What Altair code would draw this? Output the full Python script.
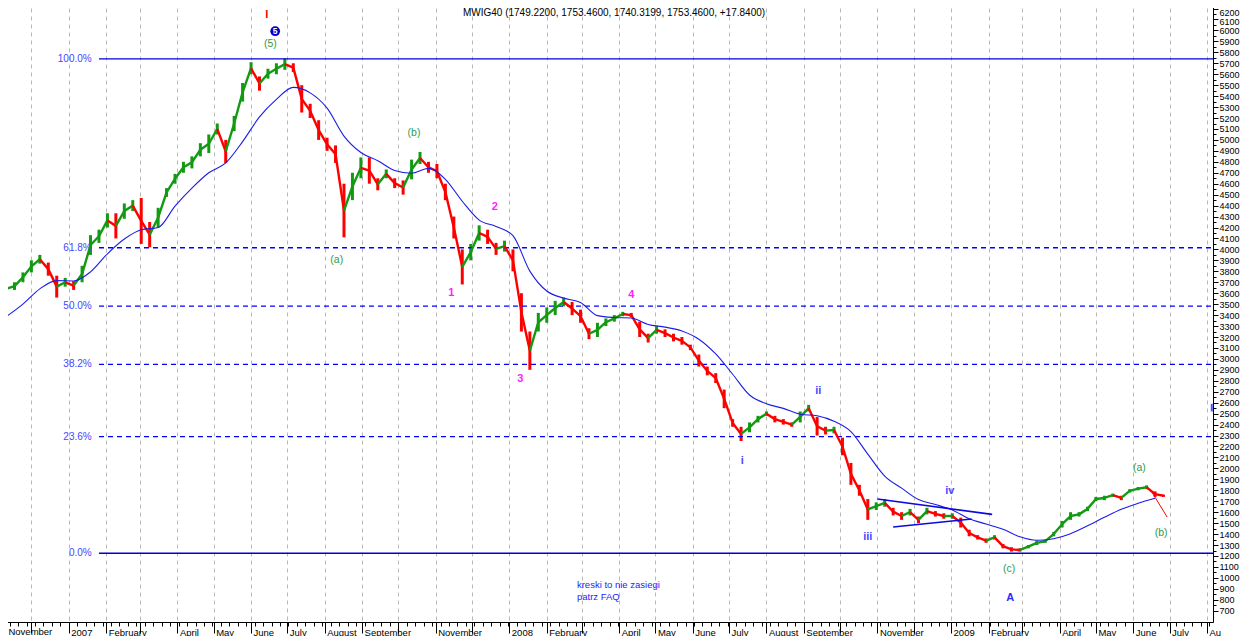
import altair as alt
import pandas as pd

# ---------------- data ----------------
title_text = "MWIG40 (1749.2200, 1753.4600, 1740.3199, 1753.4600, +17.8400)"
first_month_label = "November"
first_month_date = "2006-11-12"

week_start = "2006-11-10"
week_lows = [3600, 3630, 3700, 3790, 3870, 3760, 3560, 3660, 3630, 3700,
             3950, 4060, 4200, 4100, 4280, 4350, 4050, 4020, 4200, 4480,
             4600, 4700, 4740, 4850, 4880, 5050, 4790, 5080, 5350, 5600,
             5450, 5560, 5600, 5640, 5620, 5250, 5200, 5000, 4900, 4790,
             4110, 4450, 4650, 4600, 4540, 4650, 4560, 4500, 4640, 4780,
             4700, 4650, 4450, 4100, 3680, 3900, 4080, 4050, 3950, 3980,
             3800, 3250, 2900, 3250, 3330, 3400, 3480, 3400, 3330, 3180,
             3200, 3300, 3340, 3390, 3380, 3200, 3150, 3230, 3200, 3160,
             3130, 3080, 2930, 2850, 2780, 2550, 2380, 2250, 2330, 2420,
             2480, 2420, 2400, 2380, 2420, 2520, 2300, 2310, 2320, 2120,
             1850, 1750, 1530, 1620, 1650, 1570, 1530, 1570, 1500, 1580,
             1560, 1540, 1540, 1460, 1380, 1350, 1320, 1350, 1270, 1240,
             1240, 1270, 1300, 1320, 1380, 1460, 1530, 1560, 1610, 1700,
             1710, 1740, 1710, 1780, 1800, 1810, 1740, 1740]
week_highs = [3680, 3700, 3790, 3900, 3950, 3880, 3760, 3740, 3710, 3850,
              4130, 4180, 4330, 4330, 4420, 4450, 4470, 4250, 4380, 4560,
              4690, 4800, 4850, 4970, 5050, 5150, 5000, 5220, 5520, 5710,
              5580, 5650, 5700, 5745, 5700, 5500, 5330, 5180, 5020, 4950,
              4600, 4700, 4840, 4840, 4650, 4730, 4650, 4630, 4820, 4890,
              4800, 4780, 4600, 4300, 4000, 4050, 4220, 4180, 4060, 4080,
              4000, 3600, 3250, 3420, 3470, 3530, 3560, 3520, 3450, 3280,
              3330, 3370, 3400, 3430, 3420, 3340, 3230, 3300, 3270, 3230,
              3200, 3130, 3040, 2930, 2870, 2720, 2450, 2380, 2420, 2480,
              2520, 2480, 2450, 2420, 2520, 2580, 2470, 2380, 2380, 2280,
              2050, 1850, 1720, 1690, 1720, 1640, 1600, 1630, 1560, 1640,
              1610, 1590, 1590, 1550, 1440, 1390, 1360, 1390, 1310, 1280,
              1270, 1300, 1340, 1350, 1420, 1520, 1600, 1600, 1650, 1740,
              1750, 1770, 1750, 1810, 1830, 1845, 1790, 1760]

ma_start = "2006-11-10"
ma_values = [3385, 3500, 3640, 3715, 3712, 3795, 3960, 4095, 4180, 4200,
             4395, 4560, 4700, 4790, 4985, 5210, 5370, 5480, 5430, 5290,
             5035, 4885, 4810, 4720, 4695, 4740, 4640, 4440, 4268, 4210,
             4125, 3802, 3620, 3555, 3515, 3395, 3378, 3373, 3315, 3290,
             3255, 3180, 3045, 2860, 2670, 2590, 2548, 2495, 2480, 2430,
             2335, 2130, 1930, 1820, 1715, 1670, 1620, 1540, 1492, 1444,
             1375, 1343, 1358, 1404, 1475, 1553, 1627, 1681, 1727]

fib_high = 5740
fib_low = 1225
fib_ratios = [1.0, 0.618, 0.5, 0.382, 0.236, 0.0]
fib_labels = ["100.0%", "61.8%", "50.0%", "38.2%", "23.6%", "0.0%"]
fib_kind = ["solid", "dashed", "dashed", "dashed", "dashed", "solid"]
fib_line_start = "2007-01-26"
fib_label_date = "2007-01-20"

wave_texts = ["I", "(5)", "(a)", "(b)", "1", "2", "3", "4", "i", "ii", "iii",
              "iv", "(c)", "A", "(a)", "(b)"]
wave_dates = ["2007-06-14", "2007-06-17", "2007-08-11", "2007-10-14",
              "2007-11-14", "2007-12-20", "2008-01-10", "2008-04-11",
              "2008-07-12", "2008-09-13", "2008-10-24", "2008-12-31",
              "2009-02-18", "2009-02-19", "2009-06-06", "2009-06-24"]
wave_values = [6140, 5875, 3902, 5062, 3601, 4386, 2816, 3583, 2067, 2706,
               1373, 1793, 1081, 817, 2003, 1410]
wave_degree = ["cycle", "intermediate", "intermediate", "intermediate",
               "minor", "minor", "minor", "minor", "minute", "minute",
               "minute", "minute", "intermediate", "primary", "intermediate",
               "intermediate"]

circle_text = "5"
circle_date = "2007-06-21"
circle_value = 5993

note_texts = ["kreski to nie zasiegi", "patrz FAQ"]
note_dates = ["2008-02-26", "2008-02-26"]
note_values = [935, 826]

trend_names = ["upper", "lower", "projection"]
trend_start_dates = ["2008-11-01", "2008-11-14", "2009-06-16"]
trend_end_dates = ["2009-02-04", "2009-01-18", "2009-06-29"]
trend_start_values = [1720, 1465, 1790]
trend_end_values = [1580, 1538, 1556]

edge_marker_date = "2009-08-05"
edge_marker_low = 2520
edge_marker_high = 2590

month_names_shown = [1, 3, 4, 5, 6, 7, 8, 10]  # Feb, Apr..Sep, Nov (0-based)

# ---------------- frames ----------------
week_dates = [d.strftime("%Y-%m-%d") for d in
              pd.date_range(week_start, periods=len(week_lows), freq="7D")]
price_df = pd.DataFrame({"date": week_dates, "lo": week_lows, "hi": week_highs})

ma_dates = [d.strftime("%Y-%m-%d") for d in
            pd.date_range(ma_start, periods=len(ma_values), freq="14D")]
ma_df = pd.DataFrame({"date": ma_dates, "ma": ma_values})

fib_df = pd.DataFrame({"ratio": fib_ratios, "label": fib_labels, "kind": fib_kind,
                       "start": fib_line_start, "ldate": fib_label_date,
                       "end": "2009-08-06"})
wave_df = pd.DataFrame({"text": wave_texts, "date": wave_dates,
                        "value": wave_values, "degree": wave_degree})
circle_df = pd.DataFrame({"text": [circle_text], "date": [circle_date],
                          "value": [circle_value]})
note_df = pd.DataFrame({"text": note_texts, "date": note_dates, "value": note_values})
trend_df = pd.DataFrame({"name": trend_names, "d1": trend_start_dates,
                         "d2": trend_end_dates, "v1": trend_start_values,
                         "v2": trend_end_values})
title_df = pd.DataFrame({"t": [title_text]})
first_df = pd.DataFrame({"text": [first_month_label], "date": [first_month_date]})
marker_df = pd.DataFrame({"date": [edge_marker_date], "lo": [edge_marker_low],
                          "hi": [edge_marker_high]})

# ---------------- scales & axes ----------------
FONT = "Liberation Sans"
x_start = pd.Timestamp("2006-11-05")
x_end = pd.Timestamp("2009-08-06")


def ms(ts):
    return int(pd.Timestamp(ts).value // 10**6)


month_ticks = [ms(d) for d in pd.date_range("2006-12-01", "2009-08-01", freq="MS")]
week_ticks = [ms(d) for d in pd.date_range("2006-11-06", "2009-08-03", freq="W-MON")
              if d.day != 1]
x_values = sorted(month_ticks + week_ticks)

x_scale = alt.Scale(type="utc", domain=[ms(x_start), ms(x_end)])
y_scale = alt.Scale(domain=[597, 6278], nice=False, zero=False)

shown = ",".join(str(m) for m in month_names_shown)
x_label_expr = (
    "utcdate(datum.value) != 1 ? '' : "
    "(utcmonth(datum.value) == 0 ? utcFormat(datum.value, '%Y') : "
    "(utcyear(datum.value) == 2009 && utcmonth(datum.value) == 7 ? 'Au' : "
    "(indexof([" + shown + "], utcmonth(datum.value)) >= 0 ? "
    "utcFormat(datum.value, '%B') : '')))"
)

x_axis = alt.Axis(
    values=x_values, labelExpr=x_label_expr, title=None,
    grid=True, gridColor="#b8b8b8", gridDash=[4, 4], gridWidth=1,
    gridOpacity={"condition": {"test": "utcdate(datum.value) == 1", "value": 1}, "value": 0},
    tickSize={"condition": {"test": "utcdate(datum.value) == 1", "value": 11}, "value": 4},
    tickColor="black", domainColor="black", labelAlign="left", labelBaseline="top",
    labelPadding=-6, labelOffset=2, labelFont=FONT, labelFontSize=9.5, labelColor="black",
    labelOverlap=False, labelFlush=False,
)

y_axis = alt.Axis(
    orient="right", values=list(range(700, 6250, 50)), format="d",
    labelExpr="datum.value % 100 == 0 ? datum.label : ''", title=None, grid=False,
    tickSize={"condition": {"test": "datum.value % 100 == 0", "value": 5}, "value": 3},
    tickColor="black", domainColor="black", labelPadding=1, labelAlign="left",
    labelOffset={"condition": [{"test": "datum.value >= 6200", "value": 4},
                               {"test": "datum.value == 6100", "value": 2}],
                 "value": 0},
    labelFont=FONT, labelFontSize=9, labelColor="black", labelOverlap=False,
)


def X(field):
    return alt.X(field, scale=x_scale, axis=x_axis)


def Y(field):
    return alt.Y(field, scale=y_scale, axis=y_axis)


GREEN = "#139a13"
RED = "#ff0000"

# ---------------- layers ----------------
fib_base = alt.Chart(fib_df).transform_calculate(
    level=f"{fib_low} + datum.ratio * ({fib_high} - {fib_low})"
)
fib_solid = fib_base.transform_filter("datum.kind == 'solid'").mark_rule(
    color="#0000d8", strokeWidth=1.4
).encode(x=X("start:T"), x2="end:T", y=Y("level:Q"))
fib_dashed = fib_base.transform_filter("datum.kind == 'dashed'").mark_rule(
    color="#0000ff", strokeWidth=1.3, strokeDash=[5, 4]
).encode(x=X("start:T"), x2="end:T", y=Y("level:Q"))
fib_text = fib_base.mark_text(
    align="right", baseline="middle", font=FONT, fontSize=10, color="#4646ff"
).encode(x=X("ldate:T"), y=Y("level:Q"), text="label:N")

price_base = alt.Chart(price_df).transform_calculate(
    t="toDate(datum.date)", mid="(datum.lo + datum.hi) / 2"
).transform_window(
    prev_mid="lag(mid)", prev_t="lag(t)", sort=[alt.SortField("t")]
).transform_calculate(
    trend="datum.prev_mid == null || datum.mid >= datum.prev_mid ? 'up' : 'down'"
)
price_color = alt.Color("trend:N", scale=alt.Scale(domain=["up", "down"], range=[GREEN, RED]),
                        legend=None)

price_bars = price_base.mark_rule(strokeWidth=3).encode(
    x=X("t:T"), y=Y("lo:Q"), y2="hi:Q", color=price_color,
)
price_links = price_base.transform_filter("datum.prev_mid != null").mark_rule(
    strokeWidth=2.4
).encode(x=X("prev_t:T"), x2="t:T", y=Y("prev_mid:Q"), y2="mid:Q", color=price_color)

ma_line = alt.Chart(ma_df).mark_line(color="#1c1ce6", strokeWidth=1.1,
                                     interpolate="monotone").encode(
    x=X("date:T"), y=Y("ma:Q"),
)

trend_blue = alt.Chart(trend_df).transform_filter("datum.name != 'projection'").mark_rule(
    color="#0a0ae0", strokeWidth=1.6
).encode(x=X("d1:T"), x2="d2:T", y=Y("v1:Q"), y2="v2:Q")
trend_red = alt.Chart(trend_df).transform_filter("datum.name == 'projection'").mark_rule(
    color=RED, strokeWidth=1.0
).encode(x=X("d1:T"), x2="d2:T", y=Y("v1:Q"), y2="v2:Q")

edge_marker = alt.Chart(marker_df).mark_rule(color="#5050ff", strokeWidth=2).encode(
    x=X("date:T"), y=Y("lo:Q"), y2="hi:Q"
)

wave_norm = alt.Chart(wave_df).transform_filter(
    "datum.degree == 'intermediate'"
).mark_text(font=FONT, fontSize=10.5, color="#2f9a4a").encode(
    x=X("date:T"), y=Y("value:Q"), text="text:N",
)
wave_layers = []
for deg, col in [("cycle", RED), ("minor", "#ff22ff"), ("minute", "#4a4aff"),
                 ("primary", "#2a2aff")]:
    wave_layers.append(
        alt.Chart(wave_df).transform_filter(f"datum.degree == '{deg}'").mark_text(
            font=FONT, fontSize=11, fontWeight="bold", color=col
        ).encode(x=X("date:T"), y=Y("value:Q"), text="text:N")
    )

circle_mark = alt.Chart(circle_df).mark_circle(color="#0000cc", opacity=1, size=95).encode(
    x=X("date:T"), y=Y("value:Q"),
)
circle_text_mark = alt.Chart(circle_df).mark_text(
    font=FONT, fontSize=8.5, fontWeight="bold", color="white"
).encode(x=X("date:T"), y=Y("value:Q"), text="text:N")

notes = alt.Chart(note_df).mark_text(
    font=FONT, fontSize=9.5, color="#2222ff", align="left"
).encode(x=X("date:T"), y=Y("value:Q"), text="text:N")

first_label = alt.Chart(first_df).mark_text(
    font=FONT, fontSize=9.5, color="black", align="left", baseline="top"
).encode(x=X("date:T"), y=alt.value(627), text="text:N")

title_mark = alt.Chart(title_df).mark_text(
    font=FONT, fontSize=10, color="black", align="center", baseline="middle"
).encode(text="t:N", x=alt.value(614), y=alt.value(13))

chart = alt.layer(
    price_bars, fib_solid, fib_dashed, fib_text, price_links, ma_line,
    trend_blue, trend_red, edge_marker, wave_norm, *wave_layers, circle_mark,
    circle_text_mark, notes, first_label, title_mark,
).properties(
    width=1213, height=622,
    autosize=alt.AutoSizeParams(type="none"),
    padding={"left": -8, "top": -8, "right": 29, "bottom": 14},
).configure_view(stroke=None).configure(background="white")

chart.save("out.html", embed_options={"renderer": "svg", "actions": False})
